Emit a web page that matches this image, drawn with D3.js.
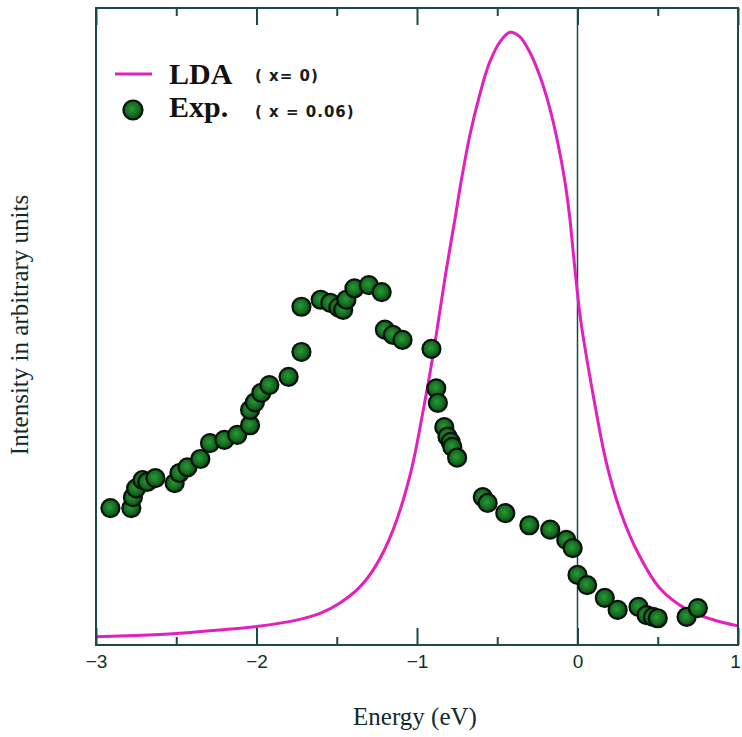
<!DOCTYPE html>
<html>
<head>
<meta charset="utf-8">
<script src="https://cdn.jsdelivr.net/npm/d3@7"></script>
<style>
  html, body { margin: 0; padding: 0; background: #ffffff; }
  svg { display: block; }
</style>
</head>
<body>
<svg id="chart" width="742" height="737"></svg>
<script>
// LDA spectrum (x = 0): energy in eV, intensity in arbitrary units
const ldaEnergy = [-3.00, -2.75, -2.50, -2.25, -2.00, -1.75, -1.60, -1.48, -1.36, -1.26,
  -1.15, -1.04, -0.96, -0.90, -0.86, -0.82, -0.76, -0.72, -0.67, -0.61,
  -0.55, -0.48, -0.42, -0.36, -0.30, -0.23, -0.17, -0.12, -0.08, -0.05,
  -0.02, 0.02, 0.10, 0.18, 0.27, 0.37, 0.51, 0.68, 0.84, 1.00];
const ldaIntensity = [1.3, 1.5, 1.8, 2.3, 2.9, 3.9, 5.0, 6.6, 9.0, 12.3,
  18.0, 27.0, 37.0, 45.5, 52.0, 58.5, 67.4, 73.5, 80.1, 86.3,
  91.3, 94.8, 96.2, 95.5, 93.2, 89.0, 84.0, 78.5, 73.0, 67.5,
  60.0, 51.0, 38.9, 28.6, 20.8, 14.8, 9.0, 5.6, 4.0, 3.0];

// Photoemission data (x = 0.06)
const expEnergy = [-2.91, -2.78, -2.77, -2.75, -2.71, -2.68, -2.63, -2.51, -2.48, -2.43,
  -2.35, -2.29, -2.20, -2.12, -2.04, -2.04, -2.01, -1.97, -1.92, -1.80,
  -1.72, -1.72, -1.60, -1.54, -1.49, -1.46, -1.44, -1.39, -1.30, -1.22,
  -1.20, -1.15, -1.09, -0.91, -0.88, -0.87, -0.83, -0.81, -0.79, -0.78,
  -0.75, -0.59, -0.56, -0.45, -0.30, -0.17, -0.07, -0.03, 0.00, 0.06,
  0.17, 0.25, 0.38, 0.43, 0.47, 0.50, 0.68, 0.75];
const expIntensity = [21.5, 21.5, 23.2, 24.6, 25.9, 25.6, 26.2, 25.4, 27.0, 27.9,
  29.2, 31.7, 32.2, 33.0, 34.5, 36.9, 38.1, 39.6, 40.8, 42.1,
  46.0, 53.1, 54.2, 53.7, 53.0, 52.6, 54.2, 56.0, 56.5, 55.4,
  49.5, 48.7, 47.9, 46.5, 40.3, 38.0, 34.2, 32.7, 31.9, 31.1,
  29.4, 23.2, 22.3, 20.7, 18.8, 18.1, 16.5, 15.2, 11.0, 9.4,
  7.4, 5.5, 6.0, 4.7, 4.4, 4.2, 4.4, 5.8];

const majorTicks = [-3, -2, -1, 0, 1];
const minorTicks = [-2.5, -1.5, -0.5, 0.5];

const xTitle = "Energy (eV)";
const yTitle = "Intensity in arbitrary units";
const legendItems = [
  { name: "LDA", note: "( x= 0)" },
  { name: "Exp.", note: "( x = 0.06)" }
];

const frameColor = "#1b4a4a";
const ldaColor = "#e21fbf";

const svg = d3.select("#chart");
const margin = { left: 96, right: 4, top: 8, bottom: 92 };
const W = 742, H = 737;

const x = d3.scaleLinear().domain([-3, 1]).range([margin.left, W - margin.right]);
const y = d3.scaleLinear().domain([0, 100]).range([H - margin.bottom, margin.top]);

// dot shading
const defs = svg.append("defs");
const grad = defs.append("radialGradient").attr("id", "dotFill")
  .attr("cx", "45%").attr("cy", "45%").attr("r", "60%");
grad.append("stop").attr("offset", "0%").attr("stop-color", "#289a33");
grad.append("stop").attr("offset", "60%").attr("stop-color", "#136a20");
grad.append("stop").attr("offset", "100%").attr("stop-color", "#0a3813");

const plot = svg.append("g");

// zero-energy reference line
plot.append("line")
  .attr("x1", x(0)).attr("x2", x(0))
  .attr("y1", y.range()[1]).attr("y2", y.range()[0])
  .attr("stroke", frameColor).attr("stroke-width", 1.5);

// LDA curve
const ldaData = ldaEnergy.map((e, i) => [e, ldaIntensity[i]]);
plot.append("path")
  .datum(ldaData)
  .attr("fill", "none")
  .attr("stroke", ldaColor)
  .attr("stroke-width", 3)
  .attr("d", d3.line().x(d => x(d[0])).y(d => y(d[1])).curve(d3.curveCatmullRom.alpha(0.5)));

// experimental points
const expData = expEnergy.map((e, i) => [e, expIntensity[i]]);
plot.selectAll("circle.exp")
  .data(expData)
  .join("circle")
  .attr("class", "exp")
  .attr("cx", d => x(d[0]))
  .attr("cy", d => y(d[1]))
  .attr("r", 9)
  .attr("fill", "url(#dotFill)")
  .attr("stroke", "#08120a")
  .attr("stroke-width", 2.2);

// frame
svg.append("rect")
  .attr("x", x.range()[0]).attr("y", y.range()[1])
  .attr("width", x.range()[1] - x.range()[0])
  .attr("height", y.range()[0] - y.range()[1])
  .attr("fill", "none").attr("stroke", frameColor).attr("stroke-width", 2);

// bottom axis: inward ticks with labels
const bottomAxis = svg.append("g").attr("transform", `translate(0,${y.range()[0]})`);
bottomAxis.call(d3.axisBottom(x).tickValues(majorTicks).tickSize(-17).tickPadding(10)
  .tickFormat(d3.format("d")));
const bottomMinor = svg.append("g").attr("transform", `translate(0,${y.range()[0]})`);
bottomMinor.call(d3.axisBottom(x).tickValues(minorTicks).tickSize(-8).tickFormat(""));

// top axis: mirrored ticks
const topAxis = svg.append("g").attr("transform", `translate(0,${y.range()[1]})`);
topAxis.call(d3.axisTop(x).tickValues(majorTicks).tickSize(-17).tickFormat(""));
const topMinor = svg.append("g").attr("transform", `translate(0,${y.range()[1]})`);
topMinor.call(d3.axisTop(x).tickValues(minorTicks).tickSize(-8).tickFormat(""));

svg.selectAll(".domain").remove();
svg.selectAll(".tick line").attr("stroke", frameColor).attr("stroke-width", 2);
bottomAxis.selectAll(".tick text")
  .attr("fill", "#0f2e2e")
  .attr("dx", d => d === 1 ? -3 : 0)
  .style("font-family", "'Liberation Sans', Arial, sans-serif")
  .style("font-size", "19px");

// axis titles
svg.append("text")
  .attr("x", 415).attr("y", 725)
  .attr("text-anchor", "middle")
  .style("font-family", "'Liberation Serif', 'Times New Roman', serif")
  .style("font-size", "25px")
  .attr("fill", "#0f2a2a")
  .text(xTitle);

svg.append("text")
  .attr("transform", "translate(28,325) rotate(-90)")
  .attr("text-anchor", "middle")
  .style("font-family", "'Liberation Serif', 'Times New Roman', serif")
  .style("font-size", "25px")
  .attr("fill", "#0f2a2a")
  .text(yTitle);

// legend
const legend = svg.append("g");
legend.append("line")
  .attr("x1", 115).attr("x2", 152).attr("y1", 74).attr("y2", 74)
  .attr("stroke", ldaColor).attr("stroke-width", 3);
legend.append("circle")
  .attr("cx", 133).attr("cy", 110).attr("r", 9.5)
  .attr("fill", "url(#dotFill)").attr("stroke", "#08120a").attr("stroke-width", 2.2);

legend.selectAll("text.name")
  .data(legendItems)
  .join("text")
  .attr("class", "name")
  .attr("x", 169)
  .attr("y", (d, i) => 84 + i * 33)
  .style("font-family", "'Liberation Serif', 'Times New Roman', serif")
  .style("font-weight", "bold")
  .style("font-size", "30px")
  .attr("fill", "#111")
  .text(d => d.name);

legend.selectAll("text.note")
  .data(legendItems)
  .join("text")
  .attr("class", "note")
  .attr("x", 255)
  .attr("y", (d, i) => 81 + i * 36)
  .style("font-family", "'DejaVu Sans', sans-serif")
  .style("font-weight", "bold")
  .style("font-size", "15px")
  .style("letter-spacing", "1px")
  .attr("fill", "#1a1a1a")
  .text(d => d.note);
</script>
</body>
</html>
